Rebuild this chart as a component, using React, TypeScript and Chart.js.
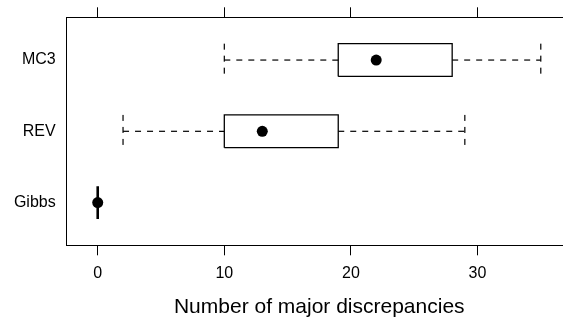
import React, { useEffect, useRef } from 'react';
import { Chart, registerables } from 'chart.js';
Chart.register(...registerables);

// Categories from bottom (y=1) to top (y=3)
const categories = ['Gibbs', 'REV', 'MC3'];
const lowerWhisker = [0, 2, 10];
const q1Values = [0, 10, 19];
const medianValues = [0, 13, 22];
const q3Values = [0, 19, 28];
const upperWhisker = [0, 29, 35];
const xTicks = [0, 10, 20, 30];
const xTitle = 'Number of major discrepancies';

const HALF = 0.23;
const FONT = "'Liberation Sans', Arial, Helvetica, sans-serif";
const DASH = [6, 6];
const X_MIN = -2.45;
const X_MAX = 37.45;
const CANVAS_W = 580;
const CANVAS_H = 325;

export default function App() {
  const ref = useRef<HTMLCanvasElement | null>(null);

  useEffect(() => {
    if (!ref.current) return;
    const datasets: any[] = [];
    datasets.push({
      label: 'median',
      data: categories.map((_, i) => ({ x: medianValues[i], y: i + 1 })),
      showLine: false,
      pointRadius: 5.5,
      pointBackgroundColor: '#000',
      pointBorderColor: '#000',
      pointBorderWidth: 0,
      order: 0,
    });
    categories.forEach((_, i) => {
      const y = i + 1;
      const base = {
        showLine: true,
        pointRadius: 0,
        borderColor: '#000',
        fill: false,
        tension: 0,
        order: 1,
      };
      const degenerate = q1Values[i] === q3Values[i];
      datasets.push({
        ...base,
        label: 'box' + i,
        borderWidth: degenerate ? 2.6 : 1.3,
        data: [
          { x: q1Values[i], y: y - HALF },
          { x: q3Values[i], y: y - HALF },
          { x: q3Values[i], y: y + HALF },
          { x: q1Values[i], y: y + HALF },
          { x: q1Values[i], y: y - HALF },
        ],
      });
      if (!degenerate) {
        const dashed = { ...base, borderWidth: 1.2, borderDash: DASH };
        datasets.push({
          ...dashed,
          label: 'lw' + i,
          data: [
            { x: lowerWhisker[i], y },
            { x: q1Values[i], y },
          ],
        });
        datasets.push({
          ...dashed,
          label: 'uw' + i,
          data: [
            { x: q3Values[i], y },
            { x: upperWhisker[i], y },
          ],
        });
        datasets.push({
          ...dashed,
          label: 'lc' + i,
          data: [
            { x: lowerWhisker[i], y: y + HALF },
            { x: lowerWhisker[i], y: y - HALF },
          ],
        });
        datasets.push({
          ...dashed,
          label: 'uc' + i,
          data: [
            { x: upperWhisker[i], y: y + HALF },
            { x: upperWhisker[i], y: y - HALF },
          ],
        });
      }
    });

    const setXTicks = (s: any) => {
      s.ticks = xTicks.map((v) => ({ value: v }));
    };
    const xGrid = {
      display: true,
      drawOnChartArea: false,
      drawTicks: true,
      tickLength: 10,
      color: '#000',
      lineWidth: 1,
    };
    const clearPad = (s: any) => {
      s.paddingLeft = 0;
      s.paddingRight = 0;
      s.paddingTop = 0;
      s.paddingBottom = 0;
    };

    const chart = new Chart(ref.current, {
      type: 'scatter',
      data: { datasets },
      options: {
        animation: false,
        responsive: false,
        devicePixelRatio: 1,
        layout: { padding: { top: 7.3, right: CANVAS_W - 571.8, left: 0, bottom: 0 } },
        plugins: { legend: { display: false }, tooltip: { enabled: false } },
        scales: {
          x: {
            type: 'linear',
            position: 'bottom',
            min: X_MIN,
            max: X_MAX,
            afterBuildTicks: setXTicks,
            afterFit: (s: any) => {
              s.height = CANVAS_H - 245.3;
              clearPad(s);
            },
            ticks: { color: '#000', font: { size: 16, family: FONT }, padding: 9, maxRotation: 0 },
            grid: xGrid,
            border: { display: true, color: '#000', width: 1 },
            title: {
              display: true,
              text: xTitle,
              color: '#000',
              font: { size: 21, family: FONT },
              padding: { top: 0, bottom: 5 },
            },
          },
          x2: {
            type: 'linear',
            position: 'top',
            min: X_MIN,
            max: X_MAX,
            afterBuildTicks: setXTicks,
            afterFit: (s: any) => {
              s.height = 10;
              clearPad(s);
            },
            ticks: { display: false },
            grid: xGrid,
            border: { display: true, color: '#000', width: 1 },
          },
          y: {
            type: 'linear',
            position: 'left',
            min: 0.4,
            max: 3.6,
            afterBuildTicks: (s: any) => {
              s.ticks = categories.map((_, i) => ({ value: i + 1 }));
            },
            afterFit: (s: any) => {
              s.width = 66.7;
              clearPad(s);
            },
            ticks: {
              color: '#000',
              font: { size: 16, family: FONT },
              padding: 11,
              callback: (v: any) => categories[Math.round(Number(v)) - 1] ?? '',
            },
            grid: { display: false, drawTicks: false, tickLength: 0 },
            border: { display: true, color: '#000', width: 1 },
          },
        },
      } as any,
    });
    return () => chart.destroy();
  }, []);

  return (
    <div
      style={{
        position: 'fixed',
        left: 0,
        top: 0,
        width: 563,
        height: CANVAS_H,
        overflow: 'hidden',
        background: '#fff',
      }}
    >
      <canvas
        ref={ref}
        width={CANVAS_W}
        height={CANVAS_H}
        style={{ width: CANVAS_W, height: CANVAS_H, display: 'block' }}
      />
    </div>
  );
}
